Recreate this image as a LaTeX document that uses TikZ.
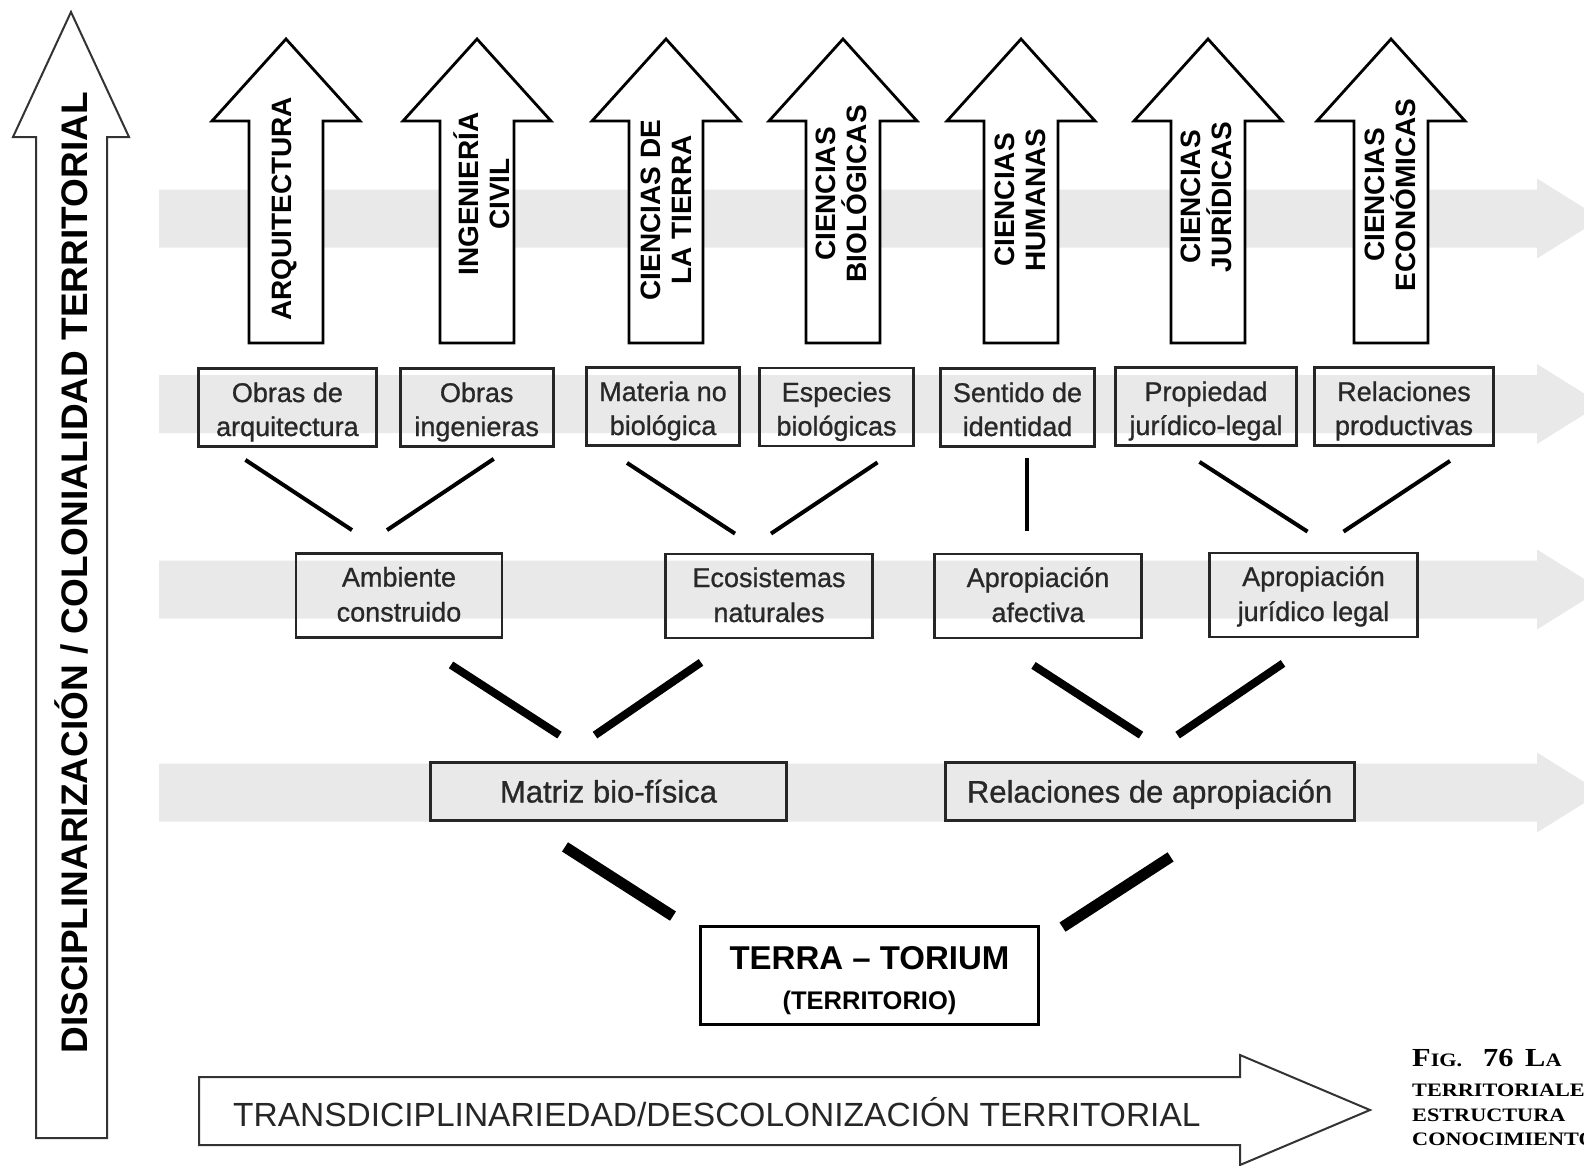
\documentclass[tikz,border=0pt]{standalone}
\usepackage{fontspec}
\setmainfont{Liberation Sans}
\newfontfamily\boxfont[FakeBold=0.9]{Liberation Sans}
\newfontfamily\capserif[FakeStretch=1.17]{Liberation Serif}
\usetikzlibrary{calc}

\definecolor{bandgray}{RGB}{233,233,233}
\definecolor{txtgray}{RGB}{40,40,40}

\tikzset{
  band/.style={fill=bandgray},
  uparrow/.style={draw=black, fill=white, line width=2.8pt, line join=miter},
  bigarrow/.style={draw=black!80, fill=white, line width=2pt, line join=miter},
  disc/.style={rotate=90, align=center, inner sep=0pt, font=\fontsize{28}{31}\selectfont\bfseries},
  cat/.style={draw=black!85, line width=2.8pt, align=center, inner sep=0pt,
    text height=57pt, text depth=0pt, text=txtgray, font=\boxfont\fontsize{27}{34}\selectfont},
  cat2/.style={cat, text height=52pt, font=\boxfont\fontsize{27}{35}\selectfont},
  cat3/.style={cat, text height=22pt, font=\boxfont\fontsize{31}{34}\selectfont},
  link/.style={line width=4pt},
  link2/.style={line width=8pt},
  link3/.style={line width=11pt},
  capt/.style={anchor=base west, inner sep=0pt, font=\capserif\bfseries\fontsize{19}{19}\selectfont}
}

\begin{document}
\begin{tikzpicture}[x=1pt, y=-1pt]
    \useasboundingbox (0,0) rectangle (1584,1165);
    \clip (0,0) rectangle (1584,1165);

    \foreach \y in {218.5, 404, 589.5, 792.5}
      \fill[band] (159,\y-29) -- (1537,\y-29) -- (1537,\y-40) -- (1601,\y)
        -- (1537,\y+40) -- (1537,\y+29) -- (159,\y+29) -- cycle;

    \foreach \x/\lx/\ty/\lab [count=\i] in {286/284.5/209/ARQUITECTURA,
        477/482/194/{INGENIERÍA\\CIVIL}, 666/666/210/{CIENCIAS DE\\LA TIERRA},
        843/841.5/194/{CIENCIAS\\BIOLÓGICAS}, 1021/1020/200/{CIENCIAS\\HUMANAS},
        1208/1206/197/{CIENCIAS\\JURÍDICAS}, 1391/1390/195/{CIENCIAS\\ECONÓMICAS}}{
      \draw[uparrow] (\x-37,343) -- (\x-37,121) -- (\x-74,121) -- (\x,39)
        -- (\x+74,121) -- (\x+37,121) -- (\x+37,343) -- cycle;
      \node[disc] (d\i) at (\lx,\ty) {\lab};
    }

    \node[cat, minimum width=178pt, minimum height=78pt] (b1) at (287.4,407.5) {Obras de\\arquitectura};
    \node[cat, minimum width=153pt, minimum height=78pt] (b2) at (476.7,407.5) {Obras\\ingenieras};
    \node[cat, minimum width=153pt, minimum height=78pt] (b3) at (663,406.5) {Materia no\\biológica};
    \node[cat, minimum width=154pt, minimum height=78pt] (b4) at (836.5,407) {Especies\\biológicas};
    \node[cat, minimum width=154pt, minimum height=78pt] (b5) at (1017.5,407.5) {Sentido de\\identidad};
    \node[cat, minimum width=181pt, minimum height=78pt] (b6) at (1206,406.5) {Propiedad\\jurídico-legal};
    \node[cat, minimum width=179pt, minimum height=78pt] (b7) at (1404,406.5) {Relaciones\\productivas};

    \node[cat2, minimum width=206pt, minimum height=84pt] (r1) at (399,595.5) {Ambiente\\construido};
    \node[cat2, minimum width=207pt, minimum height=84pt] (r2) at (769,596) {Ecosistemas\\naturales};
    \node[cat2, minimum width=207pt, minimum height=84pt] (r3) at (1038,596) {Apropiación\\afectiva};
    \node[cat2, minimum width=208pt, minimum height=84pt] (r4) at (1313.5,595) {Apropiación\\jurídico legal};

    \node[cat3, minimum width=356pt, minimum height=58pt] (m1) at (608.5,791.5) {Matriz bio-física};
    \node[cat3, minimum width=409pt, minimum height=58pt] (m2) at (1149.6,791.5) {Relaciones de apropiación};

    \node[draw, line width=2.8pt, fill=white, align=center, inner sep=0pt, minimum width=338pt,
      minimum height=98pt, text height=67pt, text depth=0pt, font=\fontsize{25.5}{40}\selectfont] (terra)
      at (869.5,975.5) {{\fontsize{33}{33}\selectfont\bfseries TERRA – TORIUM}\\\bfseries (TERRITORIO)};

    \draw[link] ($(b1.south)+(-42,12)$) -- ($(r1.north)+(-47,-22)$);
    \draw[link] ($(b2.south)+(17,11)$) -- ($(r1.north)+(-12,-22)$);
    \draw[link] ($(b3.south)+(-36,16)$) -- ($(r2.north)+(-34,-19)$);
    \draw[link] ($(b4.south)+(41,15)$) -- ($(r2.north)+(2,-19)$);
    \draw[link] ($(b5.south)+(9.5,10)$) -- ($(r3.north)+(-11,-22)$);
    \draw[link] ($(b6.south)+(-6.5,15)$) -- ($(r4.north)+(-6,-20)$);
    \draw[link] ($(b7.south)+(46,14)$) -- ($(r4.north)+(30,-20)$);

    \draw[link2] ($(r1.south)+(52,26)$) -- ($(m1.north)+(-49,-26)$);
    \draw[link2] ($(r2.south)+(-68,23)$) -- ($(m1.north)+(-13.5,-26)$);
    \draw[link2] ($(r3.south)+(-4.5,26)$) -- ($(m2.north)+(-8.6,-26)$);
    \draw[link2] ($(r4.south)+(-30.5,25)$) -- ($(m2.north)+(28,-26)$);

    \draw[link3] ($(m1.south)+(-43.5,25)$) -- ($(terra.north)+(-196.5,-9)$);
    \draw[link3] ($(m2.south)+(21,35)$) -- ($(terra.north)+(193,2)$);

    \draw[bigarrow] (36,1138) -- (36,137) -- (13,137) -- (71,12) -- (129,137) -- (107,137) -- (107,1138) -- cycle;
    \node[rotate=90, anchor=base, inner sep=0pt, font=\fontsize{37}{40}\selectfont\bfseries] (vert)
      at (87.3,573) {DISCIPLINARIZACIÓN / COLONIALIDAD TERRITORIAL};

    \draw[bigarrow] (199,1077) -- (1240,1077) -- (1240,1055) -- (1370,1110) -- (1240,1165) -- (1240,1145) -- (199,1145) -- cycle;
    \node[anchor=base west, inner sep=0pt, text=black!85, font=\fontsize{33.5}{36}\selectfont] (horiz)
      at (233,1126) {TRANSDICIPLINARIEDAD/DESCOLONIZACIÓN TERRITORIAL};

    \node[capt] (c1) at (1412,1066) {{\fontsize{26}{26}\selectfont F}IG.};
    \node[capt] (c2) at (1483,1066) {{\fontsize{26}{26}\selectfont 76}};
    \node[capt] (c3) at (1525,1066) {{\fontsize{26}{26}\selectfont L}A};
    \node[capt] (c4) at (1412,1096) {TERRITORIALES};
    \node[capt] (c5) at (1412,1121) {ESTRUCTURA};
    \node[capt] (c6) at (1412,1145) {CONOCIMIENTO};
\end{tikzpicture}
\end{document}
